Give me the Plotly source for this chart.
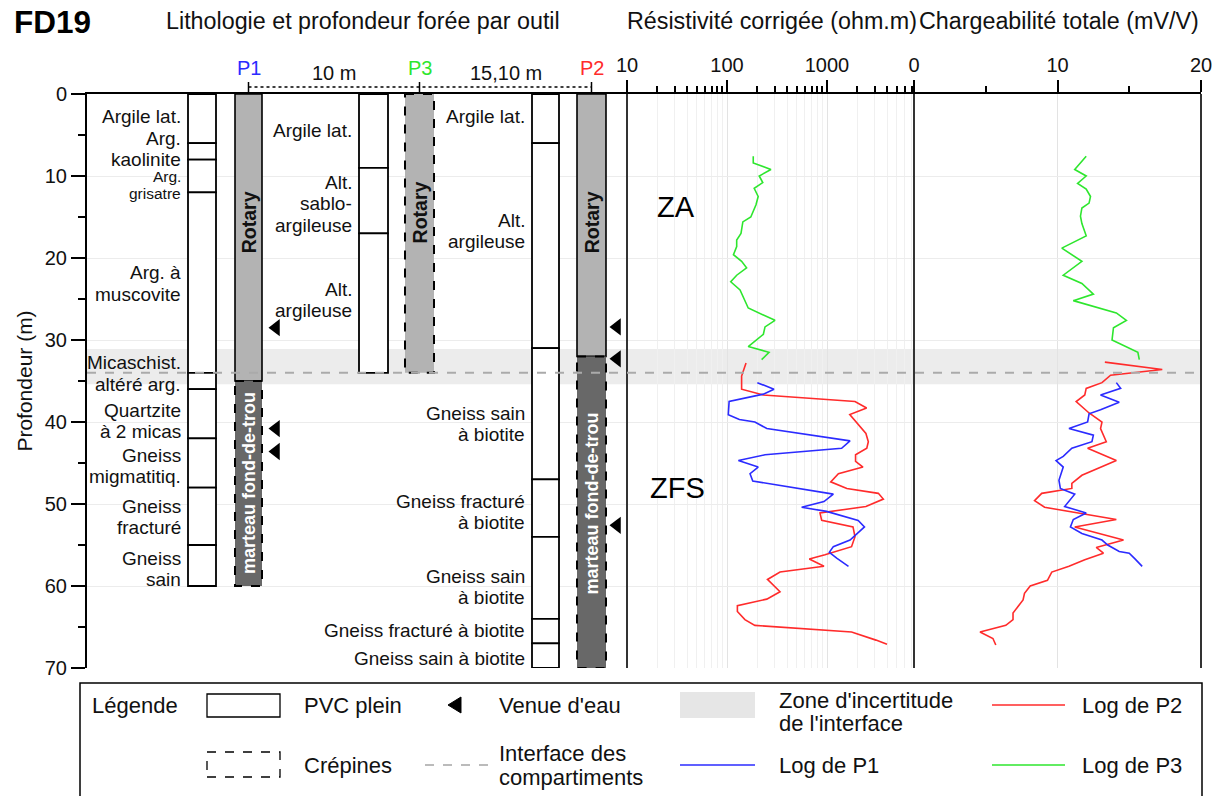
import plotly.graph_objects as go

# ------------------------------------------------------------------ data
# lithology boundaries (depth, m) and labels (label block centre depth)
p1_bounds = [0, 6, 8, 12, 34, 36, 42, 48, 55, 60]
p1_labels = ["Argile lat.", "Arg.<br>kaolinite", "Arg.<br>grisatre", "Arg. à<br>muscovite",
             "Micaschist.<br>altéré arg.", "Quartzite<br>à 2 micas", "Gneiss<br>migmatitiq.",
             "Gneiss<br>fracturé", "Gneiss<br>sain"]
p1_label_depths = [2.7, 6.7, 11.1, 23.1, 34.1, 39.9, 45.4, 51.6, 57.9]
p1_label_sizes = [19, 19, 15.5, 19, 19, 19, 19, 19, 19]

p3_bounds = [0, 9, 17, 34]
p3_labels = ["Argile lat.", "Alt.<br>sablo-<br>argileuse", "Alt.<br>argileuse"]
p3_label_depths = [4.4, 13.4, 25.1]

p2_bounds = [0, 6, 31, 47, 54, 64, 67, 70]
p2_labels = ["Argile lat.", "Alt.<br>argileuse", "Gneiss sain<br>à biotite",
             "Gneiss fracturé<br>à biotite", "Gneiss sain<br>à biotite",
             "Gneiss fracturé à biotite", "Gneiss sain à biotite"]
p2_label_depths = [2.7, 16.7, 40.2, 51.0, 60.1, 65.4, 68.8]

# drilling tools (top, bottom)
p1_rotary = (0, 35)
p1_marteau = (35, 60)
p3_rotary = (0, 34)
p2_rotary = (0, 32)
p2_marteau = (32, 70)

# water inflows (depth, m)
p1_water = [28.5, 40.8, 43.6]
p2_water = [28.4, 32.3, 52.6]

interface_depth = 34.0
uncert_zone = (31.1, 35.4)

# resistivity logs (ohm.m)
p3_res_depth = [7.6, 8.4, 9.2, 10.0, 10.8, 11.5, 12.5, 13.5, 15.0, 15.6, 17.0, 17.8, 18.6,
                19.6, 20.4, 21.2, 22.1, 22.9, 23.9, 26.1, 27.6, 28.4, 29.3, 30.8, 31.5, 32.4]
p3_res = [183, 183, 275, 210, 228, 187, 205, 195, 173, 144, 138, 125, 125,
          116, 140, 157, 125, 109, 135, 163, 302, 240, 231, 163, 263, 222]

p2_res_depth = [32.8, 33.6, 34.4, 36.0, 36.7, 37.5, 38.3, 39.1, 40.2, 41.4, 42.4, 43.2, 44.0,
                44.8, 45.5, 46.3, 47.3, 48.1, 48.7, 49.4, 50.3, 51.1, 52.0, 52.8, 54.0, 55.2,
                56.2, 56.7, 57.6, 58.3, 59.2, 60.7, 61.6, 62.4, 63.1, 64.1, 64.8, 65.6, 66.6, 67.1]
p2_res = [155, 148, 140, 140, 231, 1905, 2490, 1690, 2000, 2450, 2590, 2500, 1930,
          1930, 2290, 1300, 1090, 1580, 3260, 3660, 2450, 851, 885, 1820, 1905, 1760,
          955, 665, 933, 339, 254, 339, 250, 127, 127, 151, 190, 1760, 3090, 3980]

p1_res_depth = [35.2, 36.0, 36.6, 37.5, 39.1, 39.7, 40.0, 40.8, 42.3, 43.2, 44.0, 44.7, 45.5,
                46.3, 47.2, 48.8, 49.7, 50.4, 50.9, 52.0, 52.8, 54.4, 55.2, 55.9, 56.6, 57.6]
p1_res = [201, 295, 231, 105, 103, 133, 190, 250, 1700, 1400, 240, 130, 205,
          170, 181, 1157, 933, 558, 990, 2050, 2370, 1700, 1157, 1055, 1250, 1640]

# chargeability logs (mV/V)
p3_chg_depth = [7.6, 9.2, 10.0, 10.9, 11.6, 12.5, 13.3, 13.9, 14.9, 15.8, 17.3, 18.8, 20.4,
                22.1, 23.1, 24.4, 25.2, 26.7, 27.6, 28.5, 30.0, 31.5, 32.4]
p3_chg = [12.0, 11.2, 12.0, 11.4, 12.0, 12.3, 12.2, 11.7, 11.6, 11.7, 12.0, 10.3, 11.7,
          10.4, 11.7, 12.5, 11.1, 14.1, 14.8, 13.9, 13.8, 15.6, 15.7]

p2_chg_depth = [32.7, 33.6, 34.3, 35.2, 35.9, 36.7, 37.5, 38.9, 40.0, 40.8, 42.4, 43.2, 44.7,
                46.5, 47.5, 48.1, 48.7, 49.6, 50.4, 51.9, 52.8, 54.4, 55.3, 56.0, 56.8, 57.6,
                58.3, 59.3, 60.0, 60.9, 61.7, 62.9, 63.3, 64.1, 64.8, 65.6, 66.4, 67.2]
p2_chg = [13.3, 17.3, 13.7, 13.1, 12.0, 11.9, 11.3, 12.2, 13.1, 13.0, 13.4, 12.1, 14.1,
          11.7, 11.0, 11.0, 8.9, 8.4, 9.1, 14.1, 11.2, 14.6, 12.7, 13.2, 11.9, 10.8,
          9.6, 9.3, 8.1, 7.7, 7.6, 7.1, 6.9, 6.9, 6.4, 4.6, 5.5, 5.7]

p1_chg_depth = [35.2, 35.9, 36.7, 37.6, 38.5, 39.0, 40.0, 40.8, 41.6, 42.4, 43.2, 44.2, 44.7,
                45.5, 47.1, 48.1, 48.8, 50.3, 51.1, 51.9, 52.8, 53.6, 54.4, 55.0, 55.8, 56.0,
                56.7, 57.6]
p1_chg = [14.1, 14.4, 13.0, 14.3, 13.0, 12.2, 12.1, 10.8, 12.5, 12.4, 11.0, 10.4, 9.9,
          10.4, 10.1, 10.2, 11.2, 10.5, 12.0, 11.1, 10.9, 11.7, 13.1, 13.5, 14.3, 15.0,
          15.4, 15.9]

res_ticks = [10, 100, 1000]
chg_ticks = [0, 10, 20]
depth_ticks = [0, 10, 20, 30, 40, 50, 60, 70]

# ------------------------------------------------------------------ layout helpers
# target screen coordinates; the page body adds an 8 px offset
OFF = 8
W, H = 1219, 788
L, R, T, B = 87, 1201, 94, 668
X_RES, X_CHG = 627, 914
PX_PER_M = (B - T) / 70.0


def px(x):
    return (x - L) / (R - L)


def py(y):
    return (B - y) / (B - T)


FONT = "Liberation Sans, Arial, sans-serif"
RED, BLUE, GREEN = "#ff2b2b", "#2b2bff", "#2ee62e"
LIGHT, DARK = "#b3b3b3", "#686868"

# column positions in pixel units of the lithology axis
COL = {
    "p1_lith": (188, 216), "p1_tool": (235, 262),
    "p3_lith": (359, 388), "p3_tool": (405, 434),
    "p2_lith": (532, 559), "p2_tool": (577, 606),
}
LABEL_X = {"p1": 183, "p3": 354, "p2": 527}
WATER_X = {"p1": 276, "p2": 617}

fig = go.Figure()
shapes = []
ann = []


def pann(x, y, text, font, xanchor="center", align="center", **kw):
    d = dict(x=px(x), y=py(y), xref="paper", yref="paper", text=text, showarrow=False,
             xanchor=xanchor, yanchor="middle", align=align, font=font)
    d.update(kw)
    ann.append(d)


# uncertainty band
shapes.append(dict(type="rect", xref="paper", yref="y", x0=0, x1=1,
                   y0=uncert_zone[0], y1=uncert_zone[1], fillcolor="#ececec",
                   line=dict(width=0), layer="below"))


def lith_column(bounds, col):
    x0, x1 = COL[col]
    for a, b in zip(bounds[:-1], bounds[1:]):
        shapes.append(dict(type="rect", xref="x", yref="y", x0=x0, x1=x1, y0=a, y1=b,
                           fillcolor="white", line=dict(color="black", width=1.8)))


def tool(interval, col, fill, dashed):
    x0, x1 = COL[col]
    shapes.append(dict(type="rect", xref="x", yref="y", x0=x0, x1=x1,
                       y0=interval[0], y1=interval[1], fillcolor=fill,
                       line=dict(color="black", width=2 if dashed else 1.6,
                                 dash="dash" if dashed else "solid")))


def labels(texts, depths, key, sizes=None):
    for i, (t, d) in enumerate(zip(texts, depths)):
        s = sizes[i] if sizes else 19
        lines = t.split("<br>")
        gap = s * 1.12 / PX_PER_M
        start = d - gap * (len(lines) - 1) / 2.0
        for j, ln in enumerate(lines):
            ann.append(dict(x=LABEL_X[key], y=start + j * gap, xref="x", yref="y", text=ln,
                            showarrow=False, xanchor="right", yanchor="middle",
                            font=dict(size=s, color="#111", family=FONT)))


lith_column(p1_bounds, "p1_lith")
lith_column(p3_bounds, "p3_lith")
lith_column(p2_bounds, "p2_lith")
labels(p1_labels, p1_label_depths, "p1", p1_label_sizes)
labels(p3_labels, p3_label_depths, "p3")
labels(p2_labels, p2_label_depths, "p2")

tool(p1_rotary, "p1_tool", LIGHT, False)
tool(p1_marteau, "p1_tool", DARK, True)
tool(p3_rotary, "p3_tool", LIGHT, True)
tool(p2_rotary, "p2_tool", LIGHT, False)
tool(p2_marteau, "p2_tool", DARK, True)


def tool_text(text, col, depth, color, size):
    x0, x1 = COL[col]
    ann.append(dict(x=(x0 + x1) / 2, y=depth, xref="x", yref="y", text="<b>%s</b>" % text,
                    showarrow=False, textangle=-90, xanchor="center", yanchor="middle",
                    font=dict(size=size, color=color, family=FONT)))


tool_text("Rotary", "p1_tool", 15.7, "#111", 19.5)
tool_text("Rotary", "p3_tool", 14.5, "#111", 19.5)
tool_text("Rotary", "p2_tool", 15.7, "#111", 19.5)
tool_text("marteau fond-de-trou", "p1_tool", 47.5, "white", 18)
tool_text("marteau fond-de-trou", "p2_tool", 50.0, "white", 18)

# water inflow triangles
for key, depths in [("p1", p1_water), ("p2", p2_water)]:
    fig.add_trace(go.Scatter(x=[WATER_X[key]] * len(depths), y=depths, xaxis="x", yaxis="y",
                             mode="markers",
                             marker=dict(symbol="triangle-left", size=15, color="black"),
                             showlegend=False, hoverinfo="skip"))

# resistivity logs
for xs, ys, c in [(p3_res, p3_res_depth, GREEN), (p2_res, p2_res_depth, RED),
                  (p1_res, p1_res_depth, BLUE)]:
    fig.add_trace(go.Scatter(x=xs, y=ys, xaxis="x2", yaxis="y", mode="lines",
                             line=dict(color=c, width=1.6), showlegend=False))
# chargeability logs
for xs, ys, c in [(p3_chg, p3_chg_depth, GREEN), (p2_chg, p2_chg_depth, RED),
                  (p1_chg, p1_chg_depth, BLUE)]:
    fig.add_trace(go.Scatter(x=xs, y=ys, xaxis="x3", yaxis="y", mode="lines",
                             line=dict(color=c, width=1.6), showlegend=False))

# panel borders
for xp in [X_RES, X_CHG, R]:
    shapes.append(dict(type="line", xref="paper", yref="y", x0=px(xp), x1=px(xp), y0=0, y1=70,
                       line=dict(color="#333", width=2)))

# interface line
shapes.append(dict(type="line", xref="paper", yref="y", x0=0, x1=1, y0=interface_depth,
                   y1=interface_depth, line=dict(color="#aaaaaa", width=2, dash="dash")))

# zone labels
pann(676, 207, "ZA", dict(size=29, color="black", family=FONT))
pann(677, 488, "ZFS", dict(size=29, color="black", family=FONT))

# header
pann(12, 22, "<b>FD19</b>", dict(size=31.5, color="black", family=FONT), xanchor="left")
HF = dict(size=23.3, color="#111", family=FONT)
pann(363, 21, "Lithologie et profondeur forée par outil", HF)
pann(772, 21, "Résistivité corrigée (ohm.m)", HF)
pann(1059, 21, "Chargeabilité totale (mV/V)", HF)

p_x = {"P1": (COL["p1_tool"][0] + COL["p1_tool"][1]) / 2,
       "P3": (COL["p3_tool"][0] + COL["p3_tool"][1]) / 2,
       "P2": (COL["p2_tool"][0] + COL["p2_tool"][1]) / 2}
for name, c in [("P1", BLUE), ("P3", GREEN), ("P2", RED)]:
    ann.append(dict(x=p_x[name], y=py(68), xref="x", yref="paper", text=name, showarrow=False,
                    xanchor="center", yanchor="middle",
                    font=dict(size=20, color=c, family=FONT)))
    shapes.append(dict(type="line", xref="x", yref="paper", x0=p_x[name], x1=p_x[name],
                       y0=py(82), y1=py(94), line=dict(color="black", width=1.5)))
shapes.append(dict(type="line", xref="x", yref="paper", x0=p_x["P1"], x1=p_x["P2"],
                   y0=py(87), y1=py(87), line=dict(color="black", width=1.6, dash="dot")))
for txt, xa, xb in [("10 m", "P1", "P3"), ("15,10 m", "P3", "P2")]:
    ann.append(dict(x=(p_x[xa] + p_x[xb]) / 2, y=py(73), xref="x", yref="paper", text=txt,
                    showarrow=False, xanchor="center", yanchor="middle",
                    font=dict(size=20, color="#111", family=FONT)))

# ------------------------------------------------------------------ legend box
LF = dict(size=22, color="#111", family=FONT)
shapes.append(dict(type="rect", xref="paper", yref="paper", x0=px(80), x1=px(1202),
                   y0=py(805), y1=py(683), line=dict(color="black", width=1.5)))
pann(90, 705, "Légende", LF, xanchor="left")
shapes.append(dict(type="rect", xref="paper", yref="paper", x0=px(207), x1=px(280),
                   y0=py(717), y1=py(694), line=dict(color="black", width=1.3)))
pann(302, 705, "PVC plein", LF, xanchor="left")
shapes.append(dict(type="rect", xref="paper", yref="paper", x0=px(207), x1=px(280),
                   y0=py(777), y1=py(752), line=dict(color="black", width=1.3, dash="dash")))
pann(302, 765, "Crépines", LF, xanchor="left")
shapes.append(dict(type="path", xref="paper", yref="paper",
                   path="M %f,%f L %f,%f L %f,%f Z" % (px(448), py(705), px(461), py(697),
                                                       px(461), py(713)),
                   fillcolor="black", line=dict(color="black", width=1)))
pann(497, 705, "Venue d'eau", LF, xanchor="left")
shapes.append(dict(type="line", xref="paper", yref="paper", x0=px(425), x1=px(490),
                   y0=py(765), y1=py(765), line=dict(color="#bbbbbb", width=2, dash="dash")))
pann(497, 754, "Interface des", LF, xanchor="left")
pann(497, 777, "compartiments", LF, xanchor="left")
shapes.append(dict(type="rect", xref="paper", yref="paper", x0=px(680), x1=px(755),
                   y0=py(718), y1=py(692), fillcolor="#e6e6e6", line=dict(width=0)))
pann(777, 700, "Zone d'incertitude", LF, xanchor="left")
pann(777, 723, "de l'interface", LF, xanchor="left")
shapes.append(dict(type="line", xref="paper", yref="paper", x0=px(680), x1=px(755),
                   y0=py(765), y1=py(765), line=dict(color=BLUE, width=1.6)))
pann(777, 765, "Log de P1", LF, xanchor="left")
shapes.append(dict(type="line", xref="paper", yref="paper", x0=px(992), x1=px(1065),
                   y0=py(705), y1=py(705), line=dict(color=RED, width=1.6)))
pann(1080, 705, "Log de P2", LF, xanchor="left")
shapes.append(dict(type="line", xref="paper", yref="paper", x0=px(992), x1=px(1065),
                   y0=py(765), y1=py(765), line=dict(color=GREEN, width=1.6)))
pann(1080, 765, "Log de P3", LF, xanchor="left")

# ------------------------------------------------------------------ axes
TF = dict(size=20, color="#111", family=FONT)
fig.update_layout(
    width=W, height=H,
    margin=dict(l=L - OFF, r=W - (R - OFF), t=T - OFF, b=H - (B - OFF), autoexpand=False),
    paper_bgcolor="white", plot_bgcolor="white",
    font=dict(family=FONT, color="#111"),
    showlegend=False,
    shapes=shapes, annotations=ann,
    yaxis=dict(range=[70, 0], domain=[0, 1], anchor="x", tickvals=depth_ticks,
               ticks="outside", ticklen=14, tickwidth=2, tickcolor="black",
               showline=True, linecolor="black", linewidth=2, zeroline=False,
               showgrid=True, gridcolor="#ececec", gridwidth=1, tickfont=TF,
               minor=dict(dtick=5, tick0=0, ticks="outside", ticklen=7, tickwidth=2,
                          tickcolor="black", showgrid=False),
               title=dict(text="Profondeur (m)", font=dict(size=21, color="#111", family=FONT),
                          standoff=6)),
    xaxis=dict(range=[L, X_RES], domain=[0, px(X_RES)], anchor="y", side="top",
               showgrid=False, zeroline=False, showticklabels=False, ticks="",
               showline=True, linecolor="black", linewidth=2),
    xaxis2=dict(type="log", range=[1, 1 + (X_CHG - X_RES) / 100.0], domain=[px(X_RES), px(X_CHG)],
                anchor="y", side="top", tickvals=res_ticks, ticktext=[str(v) for v in res_ticks],
                ticks="outside", ticklen=12, tickwidth=1.5, tickcolor="black", tickfont=TF,
                showline=True, linecolor="black", linewidth=2, zeroline=False,
                showgrid=True, gridcolor="#e3e3e3",
                minor=dict(tickvals=[20, 30, 40, 50, 60, 70, 80, 90,
                                     200, 300, 400, 500, 600, 700, 800, 900,
                                     2000, 3000, 4000, 5000, 6000, 7000],
                           ticks="outside", ticklen=6, tickwidth=1.5, tickcolor="black",
                           showgrid=True, gridcolor="#f0f0f0")),
    xaxis3=dict(range=[0, 20], domain=[px(X_CHG), 1], anchor="y", side="top",
                tickvals=chg_ticks, ticks="outside", ticklen=12, tickwidth=1.5,
                tickcolor="black", tickfont=TF, showline=True, linecolor="black",
                linewidth=2, zeroline=False, showgrid=True, gridcolor="#e3e3e3",
                minor=dict(tickvals=[5, 15], ticks="outside", ticklen=6, tickwidth=1.5,
                           tickcolor="black", showgrid=False)),
)

fig.write_html("out.html")
